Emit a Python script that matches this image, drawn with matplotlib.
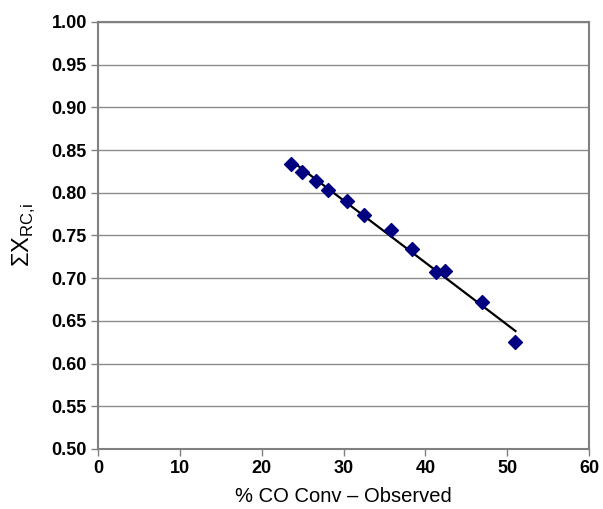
import numpy as np
import matplotlib
matplotlib.use("Agg")
import matplotlib.pyplot as plt

plt.rcParams['font.family'] = ['Liberation Sans', 'DejaVu Sans']
plt.rcParams['mathtext.fontset'] = 'custom'
plt.rcParams['mathtext.rm'] = 'Liberation Sans'

co_conv = [23.6, 24.9, 26.6, 28.1, 30.4, 32.5, 35.8, 38.4, 41.3, 42.4, 46.9, 51.0]
sum_x = [0.834, 0.824, 0.814, 0.803, 0.790, 0.774, 0.756, 0.734, 0.707, 0.708, 0.672, 0.625]

xticks = [0, 10, 20, 30, 40, 50, 60]
yticks = [0.50, 0.55, 0.60, 0.65, 0.70, 0.75, 0.80, 0.85, 0.90, 0.95, 1.00]

fig = plt.figure(figsize=(6.03, 5.09), dpi=100)
ax = fig.add_axes([0.1625, 0.118, 0.8145, 0.839])

ax.set_xlim(0, 60)
ax.set_ylim(0.5, 1.0)
ax.set_xticks(xticks)
ax.set_yticks(yticks)
ax.set_xticklabels([str(t) for t in xticks], fontsize=13, fontweight='bold')
ax.set_yticklabels([f"{t:.2f}" for t in yticks], fontsize=13, fontweight='bold')

ax.grid(axis='y', color='#8c8c8c', linewidth=1.0)
ax.set_axisbelow(True)
for s in ax.spines.values():
    s.set_color('#808080')
    s.set_linewidth(1.5)
ax.tick_params(axis='both', direction='out', length=5, color='#808080', width=1, pad=3)

# linear trendline
coef = np.polyfit(co_conv, sum_x, 1)
xs = np.array([min(co_conv), max(co_conv)])
ax.plot(xs, np.polyval(coef, xs), color='black', linewidth=1.6, zorder=2)

ax.scatter(co_conv, sum_x, marker='D', s=50, color='#000080', edgecolors='#000080', zorder=3)

ax.set_xlabel('% CO Conv \u2013 Observed', fontsize=14.5, labelpad=7)
ax.set_ylabel(r'$\Sigma$X$_{\mathregular{RC{,}i}}$', fontsize=17, labelpad=10)

fig.savefig('out.png', dpi=100)
